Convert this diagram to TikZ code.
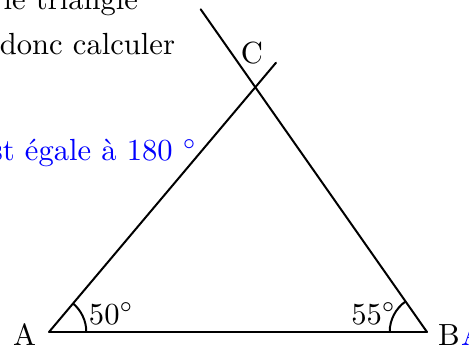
\documentclass[tikz,border=0pt]{standalone}
\usetikzlibrary{angles}
\begin{document}
\begin{tikzpicture}[x=0.327pt,y=0.327pt,
  seg/.style={line width=0.65pt,line cap=round},
  txt/.style={inner sep=0pt,outer sep=0pt},
  blu/.style={txt,text=blue},
  angmark/.style={draw,line width=0.65pt,angle radius=12.2pt}]
\useasboundingbox (0,0) rectangle (469,349);
\coordinate (A) at (49,17);
\coordinate (B) at (427,17);
\coordinate (C) at (255,262);
\coordinate (E1) at (200.7,339.7);
\coordinate (E2) at (276,286.3);
\draw[seg] (A) -- (B);
\draw[seg] (A) -- (E2);
\draw[seg] (B) -- (E1);
\pic[angmark] {angle = B--A--C};
\pic[angmark] {angle = C--B--A};
\node[txt,anchor=base east] (t1) at (138,340) {le triangle};
\node[txt,anchor=base east] (t2) at (175,295) {donc calculer};
\node[blu,anchor=base east] (t3) at (197,188.5) {st égale à 180 $^\circ$};
\node[txt,anchor=base] (lC) at (252,286) {C};
\node[txt,anchor=base] (lA) at (24.5,4) {A};
\node[txt,anchor=base] (lB) at (449,4) {B};
\node[blu,anchor=base west] (t4) at (461,4) {A};
\node[txt,anchor=base west] (a50) at (89,25) {$50^\circ$};
\node[txt,anchor=base east] (a55) at (396,25) {$55^\circ$};
\end{tikzpicture}
\end{document}
